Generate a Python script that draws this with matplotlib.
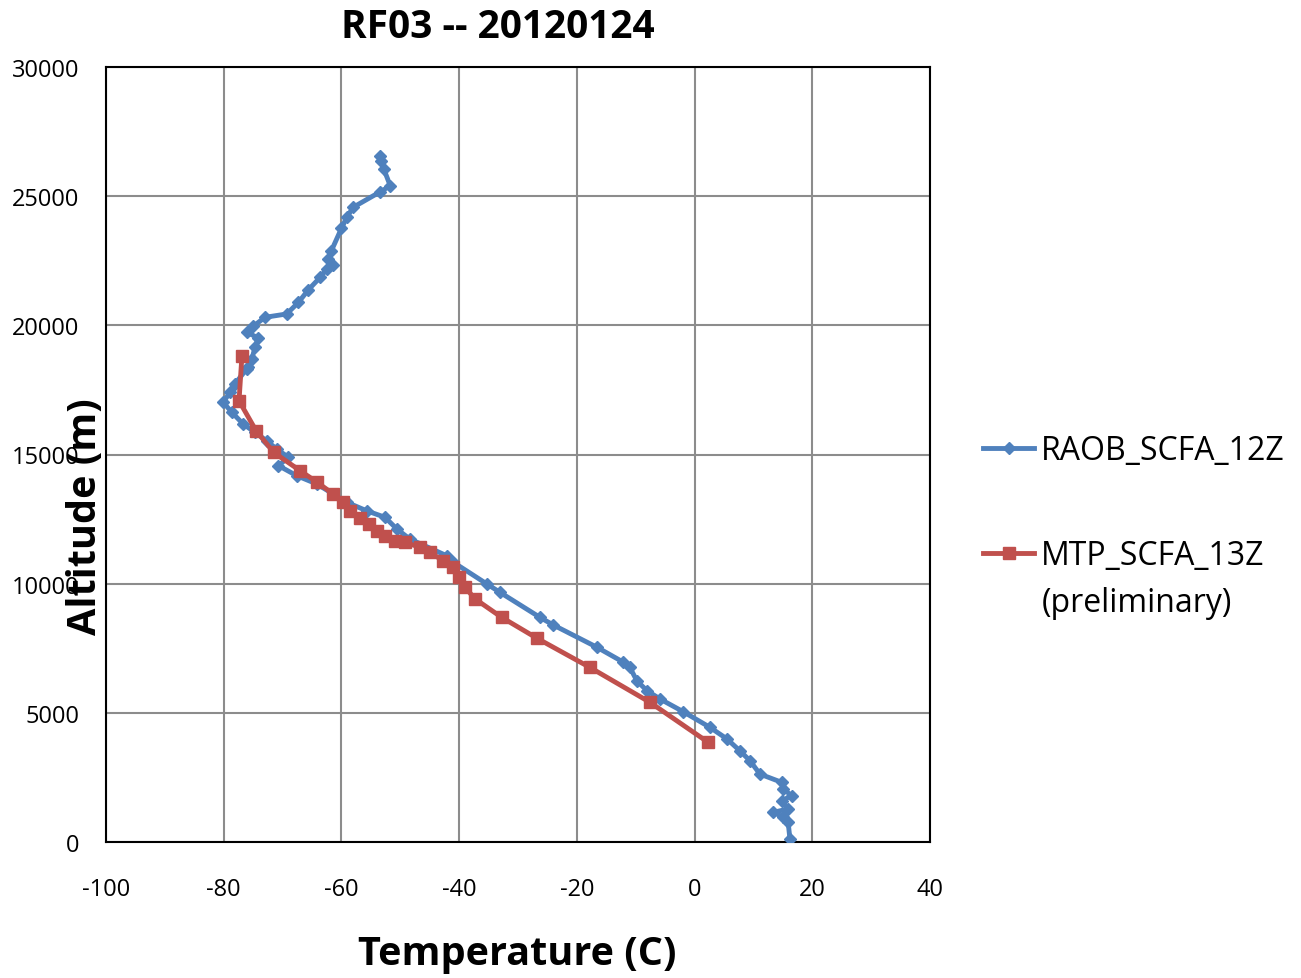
import matplotlib
matplotlib.use("Agg")
import matplotlib.pyplot as plt

# RAOB sounding (blue)
raob_temp = [-53.4, -53.2, -52.8, -51.7, -53.4, -58.0, -59.1, -60.0, -61.7, -62.2,
             -61.4, -62.5, -63.6, -65.6, -67.3, -69.3, -73.0, -75.0, -76.1, -74.1,
             -74.7, -75.2, -75.9, -76.1, -78.1, -78.9, -80.1, -78.6, -76.7, -74.7,
             -72.7, -71.0, -69.0, -70.7, -67.6, -64.2, -61.4, -59.1, -55.7, -52.6,
             -50.6, -48.4, -42.1, -41.0, -35.3, -33.1, -26.3, -24.0, -16.6, -12.1,
             -11.0, -9.8, -8.1, -5.9, -1.9, 2.6, 5.5, 7.7, 9.4, 11.1,
             14.8, 15.1, 16.5, 14.8, 15.9, 13.4, 15.1, 15.9, 16.2]
raob_alt = [26550, 26370, 26050, 25400, 25170, 24570, 24180, 23750, 22890, 22570,
            22340, 22180, 21860, 21380, 20890, 20440, 20310, 19960, 19730, 19510,
            19150, 18700, 18390, 18310, 17730, 17410, 17020, 16630, 16180, 15860,
            15530, 15210, 14890, 14570, 14180, 13860, 13470, 13150, 12820, 12570,
            12120, 11730, 11080, 10830, 9990, 9670, 8700, 8400, 7540, 6960,
            6760, 6240, 5860, 5540, 5040, 4440, 3990, 3530, 3150, 2630,
            2310, 2050, 1790, 1600, 1280, 1150, 960, 760, 120]

# MTP retrieval (red)
mtp_temp = [-76.9, -77.4, -74.5, -71.5, -67.0, -64.1, -61.4, -59.8, -58.5, -56.8,
            -55.4, -54.0, -52.6, -50.9, -49.2, -46.7, -45.0, -42.7, -41.0, -40.1,
            -39.0, -37.3, -32.8, -26.8, -17.8, -7.6, 2.3]
mtp_alt = [18830, 17080, 15920, 15080, 14370, 13920, 13470, 13150, 12820, 12530,
           12310, 12050, 11860, 11660, 11600, 11410, 11210, 10890, 10630, 10250,
           9860, 9410, 8700, 7890, 6760, 5410, 3860]

xticks = [-100, -80, -60, -40, -20, 0, 20, 40]
yticks = [0, 5000, 10000, 15000, 20000, 25000, 30000]

plt.rcParams['font.family'] = ['Open Sans', 'DejaVu Sans']
plt.rcParams['axes.unicode_minus'] = False

fig = plt.figure(figsize=(13.01, 9.79), dpi=100)
ax = fig.add_axes([106/1301, 1-843/979, (930-106)/1301, (843-68)/979])

ax.plot(raob_temp, raob_alt, color="#4F81BD", lw=3.5, marker="D", ms=6,
        label="RAOB_SCFA_12Z", zorder=3)
ax.plot(mtp_temp, mtp_alt, color="#C0504D", lw=3.5, marker="s", ms=8.5,
        label="MTP_SCFA_13Z", zorder=4)

ax.set_xlim(-100, 40)
ax.set_ylim(0, 30000)
ax.set_xticks(xticks)
ax.set_yticks(yticks)
ax.grid(True, color="#8c8c8c", lw=1.5)
ax.set_axisbelow(True)
for s in ax.spines.values():
    s.set_color("black")
    s.set_linewidth(1.5)
ax.tick_params(length=0, labelsize=17)
ax.tick_params(axis="x", pad=25)
ax.tick_params(axis="y", pad=19)

fig.suptitle("RF03 -- 20120124", x=498/1301, y=1-27/979, va="center",
             fontsize=28, fontweight="bold")
fig.text(517/1301, 1-955/979, "Temperature (C)", ha="center", va="center",
         fontsize=28.5, fontweight="bold")
fig.text(85/1301, 1-517/979, "Altitude (m)", ha="center", va="center",
         rotation=90, fontsize=28.5, fontweight="bold")

leg = fig.legend(loc="upper left", bbox_to_anchor=(983/1301, 1-435/979),
                 frameon=False, fontsize=23, handlelength=1.6,
                 labelspacing=2.25, handletextpad=0.2, borderpad=0,
                 borderaxespad=0)
fig.text(1042/1301, 1-603/979, "(preliminary)", ha="left", va="center",
         fontsize=23)

fig.savefig("out.png", dpi=100)
